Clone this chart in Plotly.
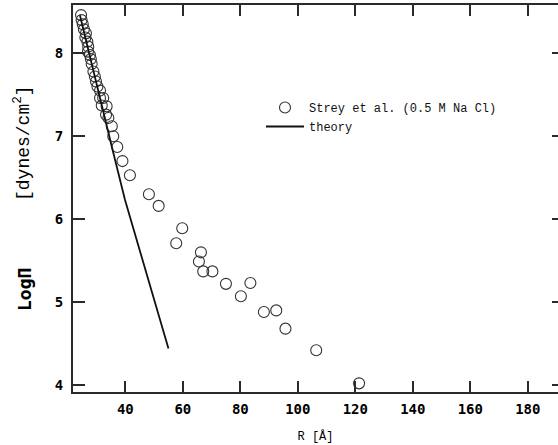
import plotly.graph_objects as go

# Experimental data: Strey et al. (0.5 M NaCl)
R_exp = [24.6, 24.8, 25.2, 25.6, 26.3, 26.1, 26.8, 27.1, 27.0, 27.7, 28.0, 28.3,
         28.9, 29.4, 29.8, 30.3, 31.2, 31.2, 32.3, 31.8, 33.5, 33.3, 34.1, 35.3,
         35.8, 37.2, 39.0, 41.6, 48.2, 51.6, 57.7, 59.8, 65.6, 66.3, 67.1, 70.3,
         75.0, 80.2, 83.5, 88.2, 92.5, 95.7, 106.4, 121.3]
logPi_exp = [8.46, 8.40, 8.35, 8.29, 8.24, 8.19, 8.14, 8.08, 8.02, 7.98, 7.93, 7.87,
             7.78, 7.72, 7.66, 7.60, 7.55, 7.46, 7.46, 7.37, 7.36, 7.26, 7.22, 7.12,
             7.00, 6.87, 6.70, 6.53, 6.30, 6.16, 5.71, 5.89, 5.49, 5.60, 5.37, 5.37,
             5.22, 5.07, 5.23, 4.88, 4.90, 4.68, 4.42, 4.02]

# Theory curve
R_th = [24.2, 27.1, 31.2, 35.6, 39.9, 47.0, 55.0]
logPi_th = [8.46, 8.04, 7.44, 6.83, 6.23, 5.39, 4.44]

x_ticks = [40, 60, 80, 100, 120, 140, 160, 180]
y_ticks = [4, 5, 6, 7, 8]

FONT = "Liberation Mono, Courier New, monospace"
BFONT = "DejaVu Sans Mono, monospace"
AX = "#2a2a2a"

fig = go.Figure()
fig.add_trace(go.Scatter(
    x=R_exp, y=logPi_exp, mode="markers", name="Strey et al. (0.5 M Na Cl)",
    marker=dict(symbol="circle-open", size=11, color="#333333", line=dict(width=1.1)),
))
fig.add_trace(go.Scatter(
    x=R_th, y=logPi_th, mode="lines", name="theory", yaxis="y2",
    line=dict(color="#111111", width=1.8),
))

fig.update_layout(
    width=558, height=445,
    margin=dict(l=73, r=0, t=5, b=53, autoexpand=False),
    paper_bgcolor="white", plot_bgcolor="white",
    font=dict(family=FONT, color="black"),
    showlegend=True,
    legend=dict(x=(261 - 73) / 485, y=(392 - 93) / 387, xanchor="left", yanchor="top",
                bgcolor="rgba(0,0,0,0)", font=dict(family=FONT, size=12, color="#111"),
                itemwidth=38),
    xaxis=dict(range=[21.8, 190.5], tickvals=x_ticks, ticks="inside", ticklen=11,
               tickwidth=1.5, tickcolor=AX, showline=True, linewidth=2, linecolor=AX,
               mirror="ticks", showgrid=False, zeroline=False, automargin=False,
               ticklabelstandoff=3,
               tickfont=dict(family=BFONT, size=14, color="black", weight="bold"),
               title=dict(text="R [Å]", font=dict(family=FONT, size=12), standoff=16)),
    yaxis=dict(range=[3.916, 8.582], tickvals=y_ticks, ticks="inside", ticklen=12,
               tickwidth=1.5, tickcolor=AX, showline=True, linewidth=2, linecolor=AX,
               mirror=False, showgrid=False, zeroline=False, automargin=False,
               ticklabelstandoff=5,
               tickfont=dict(family=BFONT, size=14, color="black", weight="bold")),
    yaxis2=dict(overlaying="y", side="right", anchor="x", matches="y",
                tickvals=y_ticks, ticks="inside", ticklen=6, tickwidth=1.5, tickcolor=AX,
                showline=False, showgrid=False, zeroline=False, showticklabels=False,
                automargin=False),
    annotations=[
        dict(text="LogΠ", xref="paper", yref="paper", x=(24 - 73) / 485,
             y=(392 - 290) / 387, xanchor="center", yanchor="middle",
             textangle=-90, showarrow=False,
             font=dict(family=BFONT, size=18, color="black", weight="bold")),
        dict(text="[dynes/cm<sup>2</sup>]", xref="paper", yref="paper", x=(22 - 73) / 485,
             y=(392 - 143) / 387, xanchor="center", yanchor="middle",
             textangle=-90, showarrow=False,
             font=dict(family=FONT, size=18, color="black")),
    ],
)

fig.write_html("out.html", config={"displayModeBar": False},
               post_script="document.body.style.margin='0px';document.body.style.overflow='hidden';")
